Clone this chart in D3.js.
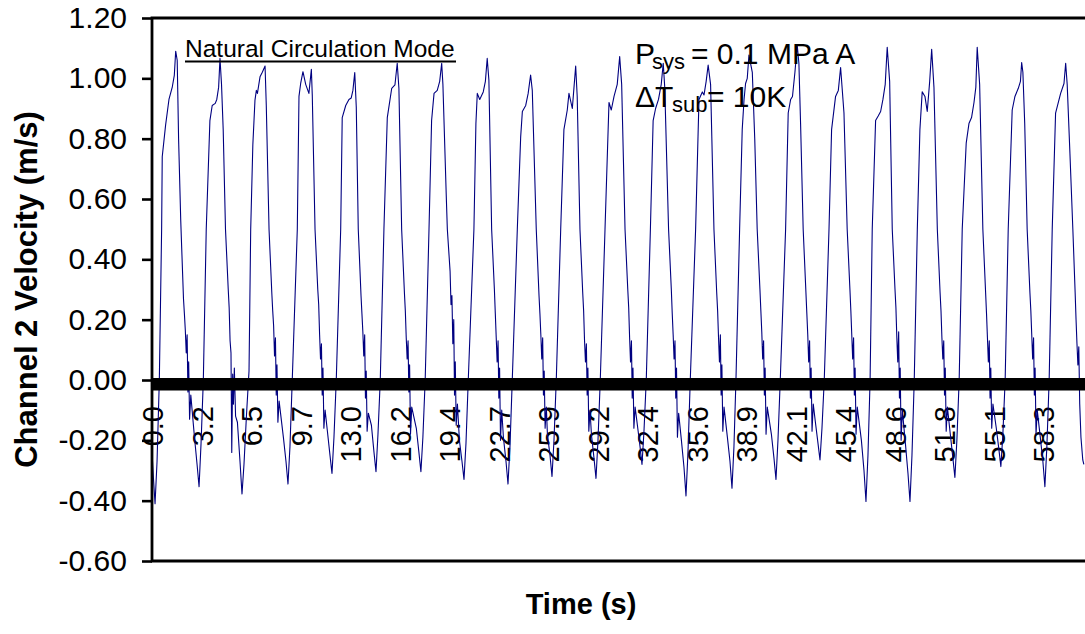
<!DOCTYPE html>
<html><head><meta charset="utf-8">
<script src="https://cdn.jsdelivr.net/npm/d3@7/dist/d3.min.js"></script>
<style>
body{margin:0;background:#fff}
svg{display:block}
text{font-family:"Liberation Sans",Arial,sans-serif;fill:#000}
</style>
</head><body>
<svg id="chart" width="1085" height="634"></svg>
<script>
// ---- data ----
const yTickValues = [-0.6,-0.4,-0.2,0,0.2,0.4,0.6,0.8,1.0,1.2];
const yTickLabels = ["-0.60","-0.40","-0.20","0.00","0.20","0.40","0.60","0.80","1.00","1.20"];
const xTickValues = [0,3.24,6.48,9.72,12.96,16.20,19.44,22.68,25.92,29.16,32.40,35.64,38.88,42.12,45.36,48.60,51.84,55.08,58.32];
const xTickLabels = ["0.0","3.2","6.5","9.7","13.0","16.2","19.4","22.7","25.9","29.2","32.4","35.6","38.9","42.1","45.4","48.6","51.8","55.1","58.3"];
const timeDomain = [0, 61.0];
const velocityDomain = [-0.6, 1.2];
// [time (s), channel 2 velocity (m/s)]
const velocitySeries = [
[0.00,-0.24],[0.10,-0.33],
[0.20,-0.41],[0.33,-0.27],[0.48,0.00],[0.63,0.50],[0.67,0.74],[0.89,0.845],[1.11,0.93],[1.33,0.972],[1.46,1.01],[1.55,1.09],[1.65,1.06],[1.74,0.80],[1.88,0.53],[2.06,0.27],[2.12,0.22],[2.18,0.166],[2.24,0.09],[2.30,0.15],[2.35,-0.04],[2.40,0.06],[2.46,-0.13],[2.54,-0.05],[2.78,-0.19],[2.95,-0.28],
[3.08,-0.354],[3.21,-0.21],[3.36,0.00],[3.55,0.50],[3.79,0.86],[3.94,0.91],[4.14,0.917],[4.24,0.93],[4.36,0.97],[4.45,1.066],[4.55,0.98],[4.66,0.83],[4.81,0.50],[4.99,0.30],[5.05,0.24],[5.11,0.13],[5.17,0.09],[5.22,-0.24],[5.28,0.02],[5.33,-0.08],[5.39,0.04],[5.47,-0.12],[5.59,-0.14],[5.76,-0.27],
[5.89,-0.378],[6.02,-0.28],[6.18,-0.12],[6.35,0.03],[6.46,0.50],[6.60,0.78],[6.74,0.928],[6.83,0.96],[6.90,0.95],[7.07,1.005],[7.22,1.02],[7.40,1.041],[7.48,0.91],[7.66,0.50],[7.84,0.29],[7.90,0.23],[7.96,0.18],[8.02,0.08],[8.08,0.14],[8.13,-0.05],[8.18,0.05],[8.24,-0.14],[8.32,-0.07],[8.60,-0.19],[8.77,-0.27],
[8.90,-0.345],[9.03,-0.22],[9.18,0.00],[9.51,0.50],[9.62,0.94],[9.73,0.983],[9.88,1.022],[10.06,0.98],[10.27,0.95],[10.43,1.03],[10.49,0.945],[10.67,0.50],[10.85,0.30],[10.91,0.25],[10.97,0.15],[11.03,0.07],[11.09,0.12],[11.14,-0.05],[11.19,0.04],[11.25,-0.16],[11.33,-0.10],[11.48,-0.17],[11.65,-0.25],
[11.78,-0.31],[11.91,-0.19],[12.06,0.00],[12.35,0.50],[12.45,0.87],[12.68,0.91],[12.89,0.93],[13.04,0.935],[13.15,0.96],[13.27,1.019],[13.37,0.905],[13.50,0.50],[13.68,0.28],[13.74,0.22],[13.80,0.16],[13.86,0.08],[13.92,0.15],[13.97,-0.06],[14.02,0.03],[14.08,-0.17],[14.16,-0.11],[14.36,-0.15],[14.53,-0.24],
[14.66,-0.304],[14.79,-0.18],[14.94,0.00],[15.18,0.50],[15.40,0.87],[15.69,0.967],[15.90,0.978],[16.05,1.05],[16.16,0.967],[16.34,0.50],[16.52,0.29],[16.58,0.23],[16.64,0.14],[16.70,0.07],[16.76,0.13],[16.81,-0.04],[16.86,0.05],[16.92,-0.18],[17.00,-0.09],[17.30,-0.16],[17.47,-0.24],
[17.60,-0.304],[17.73,-0.19],[17.88,0.00],[18.13,0.50],[18.30,0.86],[18.46,0.95],[18.67,0.96],[18.83,0.99],[18.96,1.05],[19.04,0.98],[19.26,0.61],[19.33,0.50],[19.51,0.36],[19.57,0.25],[19.63,0.28],[19.69,0.12],[19.75,0.20],[19.80,-0.05],[19.85,0.06],[19.91,-0.15],[19.99,-0.08],[20.12,-0.20],[20.29,-0.27],
[20.42,-0.33],[20.55,-0.21],[20.70,0.00],[21.07,0.50],[21.20,0.85],[21.29,0.95],[21.45,0.93],[21.68,0.955],[21.82,0.99],[21.94,1.066],[22.05,0.994],[22.23,0.50],[22.41,0.30],[22.47,0.22],[22.53,0.14],[22.59,0.06],[22.65,0.13],[22.70,-0.06],[22.75,0.04],[22.81,-0.20],[22.89,-0.10],[23.00,-0.19],[23.17,-0.27],
[23.30,-0.345],[23.43,-0.22],[23.58,0.00],[23.91,0.50],[24.13,0.806],[24.24,0.89],[24.46,0.91],[24.62,0.95],[24.78,1.011],[24.89,0.96],[25.15,0.50],[25.33,0.28],[25.39,0.22],[25.45,0.15],[25.51,0.07],[25.57,0.14],[25.62,-0.05],[25.67,0.03],[25.73,-0.16],[25.81,-0.09],[25.88,-0.18],[26.05,-0.25],
[26.18,-0.32],[26.31,-0.20],[26.46,0.00],[26.75,0.50],[26.96,0.83],[27.18,0.895],[27.29,0.95],[27.51,0.90],[27.62,0.97],[27.73,1.041],[27.83,0.94],[28.01,0.50],[28.19,0.29],[28.25,0.23],[28.31,0.13],[28.37,0.06],[28.43,0.12],[28.48,-0.05],[28.53,0.04],[28.59,-0.17],[28.67,-0.10],[28.76,-0.18],[28.93,-0.26],
[29.06,-0.326],[29.19,-0.20],[29.34,0.00],[29.65,0.50],[29.91,0.92],[30.06,0.895],[30.24,0.94],[30.45,0.98],[30.61,1.072],[30.74,0.98],[30.96,0.50],[31.14,0.30],[31.20,0.24],[31.26,0.14],[31.32,0.06],[31.38,0.13],[31.43,-0.06],[31.48,0.04],[31.54,-0.16],[31.62,-0.09],[31.77,-0.15],[31.94,-0.22],
[32.07,-0.28],[32.20,-0.17],[32.35,0.00],[32.62,0.50],[32.80,0.86],[32.96,0.90],[33.15,0.93],[33.33,0.98],[33.46,1.05],[33.56,0.97],[33.81,0.50],[33.99,0.30],[34.05,0.22],[34.11,0.15],[34.17,0.07],[34.23,0.13],[34.28,-0.06],[34.33,0.04],[34.39,-0.19],[34.47,-0.11],[34.65,-0.20],[34.82,-0.29],
[34.95,-0.384],[35.08,-0.24],[35.23,0.00],[35.58,0.50],[35.80,0.93],[36.02,0.955],[36.13,0.945],[36.27,0.99],[36.40,1.044],[36.56,0.98],[36.78,0.50],[36.96,0.29],[37.02,0.23],[37.08,0.14],[37.14,0.06],[37.20,0.15],[37.25,-0.05],[37.30,0.05],[37.36,-0.17],[37.44,-0.09],[37.66,-0.19],[37.83,-0.27],
[37.96,-0.359],[38.09,-0.22],[38.22,0.00],[38.46,0.50],[38.63,0.83],[38.75,0.93],[38.85,0.983],[38.96,1.00],[39.07,1.077],[39.29,1.02],[39.45,0.80],[39.61,0.50],[39.79,0.30],[39.85,0.23],[39.91,0.16],[39.97,0.07],[40.03,0.13],[40.08,-0.05],[40.13,0.04],[40.19,-0.18],[40.27,-0.09],[40.54,-0.18],[40.71,-0.26],
[40.84,-0.33],[40.97,-0.20],[41.12,0.00],[41.47,0.50],[41.64,0.885],[41.80,0.93],[41.92,0.94],[42.08,1.02],[42.23,1.11],[42.34,1.05],[42.45,0.85],[42.62,0.50],[42.80,0.29],[42.86,0.22],[42.92,0.15],[42.98,0.06],[43.04,0.13],[43.09,-0.06],[43.14,0.04],[43.20,-0.17],[43.28,-0.08],[43.42,-0.14],[43.59,-0.21],
[43.72,-0.265],[43.85,-0.16],[44.00,0.00],[44.31,0.50],[44.48,0.83],[44.74,0.94],[44.92,0.96],[45.07,1.036],[45.29,0.885],[45.50,0.50],[45.68,0.30],[45.74,0.23],[45.80,0.15],[45.86,0.07],[45.92,0.14],[45.97,-0.05],[46.02,0.04],[46.08,-0.18],[46.16,-0.09],[46.43,-0.20],[46.60,-0.30],
[46.73,-0.403],[46.86,-0.25],[47.00,0.00],[47.14,0.50],[47.36,0.86],[47.53,0.875],[47.69,0.89],[47.84,0.93],[47.99,0.98],[48.12,1.103],[48.28,0.99],[48.45,0.50],[48.63,0.30],[48.69,0.24],[48.75,0.14],[48.81,0.06],[48.87,0.16],[48.92,-0.06],[48.97,0.04],[49.03,-0.20],[49.11,-0.10],[49.31,-0.21],[49.48,-0.31],
[49.61,-0.403],[49.74,-0.25],[49.89,0.00],[50.09,0.50],[50.26,0.83],[50.41,0.955],[50.59,0.94],[50.74,0.89],[50.90,0.99],[51.03,1.096],[51.18,0.97],[51.40,0.50],[51.58,0.29],[51.64,0.23],[51.70,0.14],[51.76,0.07],[51.82,0.13],[51.87,-0.05],[51.92,0.04],[51.98,-0.17],[52.06,-0.09],[52.25,-0.18],[52.42,-0.26],
[52.55,-0.323],[52.68,-0.20],[52.83,0.00],[53.03,0.50],[53.29,0.785],[53.47,0.85],[53.64,0.87],[53.80,0.92],[53.92,0.97],[54.01,1.103],[54.17,0.98],[54.38,0.50],[54.56,0.29],[54.62,0.22],[54.68,0.14],[54.74,0.06],[54.80,0.13],[54.85,-0.06],[54.90,0.04],[54.96,-0.16],[55.04,-0.08],[55.26,-0.16],[55.43,-0.23],
[55.56,-0.287],[55.69,-0.18],[55.84,0.00],[56.04,0.50],[56.30,0.895],[56.48,0.94],[56.70,0.967],[56.84,0.99],[56.92,1.052],[57.00,1.02],[57.12,0.85],[57.28,0.50],[57.46,0.29],[57.52,0.23],[57.58,0.15],[57.64,0.07],[57.70,0.14],[57.75,-0.05],[57.80,0.04],[57.86,-0.18],[57.94,-0.10],[58.14,-0.19],[58.31,-0.27],
[58.44,-0.354],[58.57,-0.22],[58.72,0.00],[58.92,0.50],[59.14,0.885],[59.47,0.95],[59.69,0.983],[59.80,1.05],[59.90,0.98],[60.08,0.75],[60.27,0.50],[60.42,0.29],[60.48,0.20],[60.54,0.12],[60.60,0.05],[60.66,0.11],[60.72,-0.08],[60.80,-0.19],[60.92,-0.265],[60.99,-0.28]
];
const yAxisTitle = "Channel 2 Velocity (m/s)";
const xAxisTitle = "Time (s)";
const modeLabel = "Natural Circulation Mode";

// ---- layout ----
const plot = {left:152, top:18, right:1085, bottom:561};
const svg = d3.select("#chart");
const x = d3.scaleLinear().domain(timeDomain).range([plot.left, 1084]);
const y = d3.scaleLinear().domain(velocityDomain).range([plot.bottom, plot.top]);

svg.append("defs").append("clipPath").attr("id","clip")
  .append("rect").attr("x",plot.left).attr("y",plot.top)
  .attr("width",plot.right-plot.left).attr("height",plot.bottom-plot.top);

// x tick labels (rotated) below zero line
const xAxis = d3.axisBottom(x).tickValues(xTickValues)
  .tickFormat((d,i)=>xTickLabels[i]).tickSize(0);
const gx = svg.append("g").attr("transform",`translate(0,${y(0)})`).call(xAxis);
gx.select(".domain").remove();
gx.selectAll("text")
  .attr("font-size",29).attr("font-family","Liberation Sans, Arial, sans-serif")
  .attr("text-anchor","end").attr("y",0).attr("dy",0)
  .attr("transform","translate(10.5,26) rotate(-90)");

// series line
const line = d3.line().x(d=>x(d[0])).y(d=>y(d[1]));
svg.append("path").datum(velocitySeries)
  .attr("clip-path","url(#clip)")
  .attr("fill","none").attr("stroke","#000080").attr("stroke-width",1.1)
  .attr("stroke-linejoin","round")
  .attr("d",line);

// heavy category axis line at zero
svg.append("rect").attr("x",plot.left).attr("y",y(0)-2)
  .attr("width",plot.right-plot.left).attr("height",12.5).attr("fill","#000");

// y axis with ticks
const yAxis = d3.axisLeft(y).tickValues(yTickValues)
  .tickFormat((d,i)=>yTickLabels[i]).tickSize(10).tickPadding(15);
const gy = svg.append("g").attr("transform",`translate(${plot.left},0)`).call(yAxis);
gy.select(".domain").remove();
gy.selectAll(".tick line").attr("stroke","#000").attr("stroke-width",2.6);
gy.selectAll("text").attr("font-size",30).attr("font-family","Liberation Sans, Arial, sans-serif").attr("fill","#000");

// frame (left, top, bottom)
svg.append("path")
  .attr("d",`M${plot.right},${plot.top}H${plot.left}V${plot.bottom}H${plot.right}`)
  .attr("fill","none").attr("stroke","#000").attr("stroke-width",2.8);

// axis titles
svg.append("text").attr("transform",`translate(37,${(plot.top+plot.bottom)/2}) rotate(-90)`)
  .attr("text-anchor","middle").attr("font-weight","bold").attr("font-size",31).text(yAxisTitle);
svg.append("text").attr("x",581).attr("y",614)
  .attr("text-anchor","middle").attr("font-weight","bold").attr("font-size",29).text(xAxisTitle);

// annotations
svg.append("text").attr("x",185).attr("y",57).attr("font-size",24.5).text(modeLabel);
svg.append("line").attr("x1",185).attr("x2",456).attr("y1",61.5).attr("y2",61.5)
  .attr("stroke","#000").attr("stroke-width",2.2);

svg.append("text").attr("x",635).attr("y",63.5).attr("font-size",30).text("P");
svg.append("text").attr("x",652).attr("y",68.5).attr("font-size",22).text("sys");
svg.append("text").attr("x",691).attr("y",63.5).attr("font-size",30).text("= 0.1 MPa A");

svg.append("text").attr("x",635).attr("y",106.5).attr("font-size",30)
  .attr("font-family","Liberation Serif, Times New Roman, serif").text("ΔT");
svg.append("text").attr("x",672).attr("y",112).attr("font-size",22).text("sub");
svg.append("text").attr("x",707).attr("y",106.5).attr("font-size",30).text("= 10K");
</script>
</body></html>
